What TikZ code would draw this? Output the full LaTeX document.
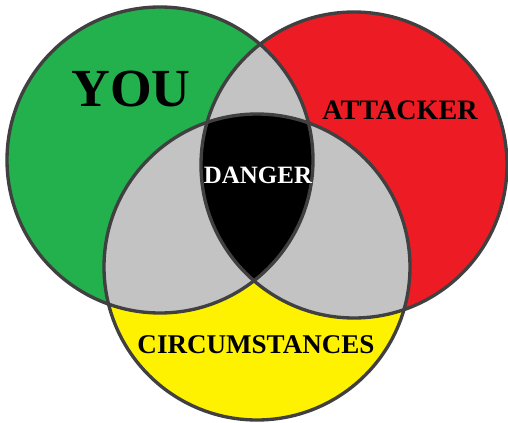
\documentclass[tikz,border=0pt]{standalone}
\usepackage{fontspec}
\setmainfont{Liberation Serif}
\usepackage{tikz}
\usetikzlibrary{positioning}

\definecolor{youGreen}{HTML}{22B14C}
\definecolor{attRed}{HTML}{ED1C24}
\definecolor{circYellow}{HTML}{FFF200}
\definecolor{overlapGray}{HTML}{C3C3C3}
\definecolor{rimGray}{HTML}{404040}

\begin{document}
\begin{tikzpicture}[
    x=0.02cm, y=-0.02cm,
    rim/.style={draw=rimGray, line width=1.9pt},
    label/.style={font=\bfseries, inner sep=0pt},
]
    \useasboundingbox (0,0) rectangle (508,423);

    % --- centres
    \coordinate (You) at (160,160);
    \coordinate (Att) at (354,165);
    \coordinate (Circ) at (257,267);
    \def\rad{153}

    % --- single sets
    \fill[youGreen] (You) circle (\rad);
    \fill[attRed] (Att) circle (\rad);
    \fill[circYellow] (Circ) circle (\rad);

    % --- overlaps
    \begin{scope}
        \clip (You) circle (\rad);
        \fill[overlapGray] (Att) circle (\rad);
        \fill[overlapGray] (Circ) circle (\rad);
    \end{scope}
    \begin{scope}
        \clip (Att) circle (\rad);
        \fill[overlapGray] (Circ) circle (\rad);
    \end{scope}
    \begin{scope}
        \clip (You) circle (\rad);
        \clip (Att) circle (\rad);
        \fill[black] (Circ) circle (\rad);
    \end{scope}

    % --- outlines
    \draw[rim] (You) circle (\rad);
    \draw[rim] (Att) circle (\rad);
    \draw[rim] (Circ) circle (\rad);

    % --- labels
    \node[label, font=\fontsize{30.5}{32}\bfseries\selectfont] (lblYou) at (131,89) {YOU};
    \node[label, font=\fontsize{16}{18}\bfseries\selectfont] (lblAtt) at (400,110) {ATTACKER};
    \node[label, white, font=\fontsize{14.2}{16}\bfseries\selectfont] (lblDanger) at (258,175) {DANGER};
    \node[label, font=\fontsize{15.4}{17}\bfseries\selectfont] (lblCirc) at (256,345) {CIRCUMSTANCES};

\end{tikzpicture}
\end{document}
